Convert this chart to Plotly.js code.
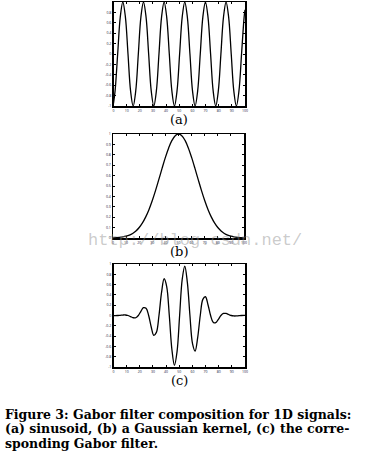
<!DOCTYPE html>
<html><head><meta charset="utf-8">
<script src="https://cdn.plot.ly/plotly-3.0.1.min.js"></script>
<style>html,body{margin:0;padding:0;background:#fff;}#chart{width:371px;height:458px;}</style>
</head><body><div id="chart"></div>
<script>
const sinX = [0,1.21,3.17,5.14,7.10,9.06,11.03,12.99,14.95,16.91,18.88,20.84,22.80,24.76,26.73,28.69,30.65,32.61,34.58,36.54,38.50,40.46,42.43,44.39,46.35,48.31,50.28,52.24,54.20,56.16,58.13,60.09,62.05,64.01,65.98,67.94,69.90,71.86,73.83,75.79,77.75,79.71,81.68,83.64,85.60,87.56,89.53,91.49,93.45,95.41,97.38,99.34,100];
const sinY = [-0.95,-0.71,0,0.71,1,0.71,0,-0.71,-1,-0.71,0,0.71,1,0.71,0,-0.71,-1,-0.71,0,0.71,1,0.71,0,-0.71,-1,-0.71,0,0.71,1,0.71,0,-0.71,-1,-0.71,0,0.71,1,0.71,0,-0.71,-1,-0.71,0,0.71,1,0.71,0,-0.71,-1,-0.71,0,0.71,0.85];
// (b) Gaussian kernel
const gaussX = [0,2.5,5,7.5,10,12.5,15,17.5,20,22.5,25,27.5,30,32.5,35,37.5,40,42.5,45,47.5,50,52.5,55,57.5,60,62.5,65,67.5,70,72.5,75,77.5,80,82.5,85,87.5,90,92.5,95,97.5,100];
const gaussY = [0.0017,0.0032,0.0057,0.0100,0.0169,0.0277,0.0439,0.0676,0.1007,0.1453,0.2030,0.2749,0.3604,0.4578,0.5633,0.6713,0.7748,0.8663,0.9382,0.9842,1,0.9842,0.9382,0.8663,0.7748,0.6713,0.5633,0.4578,0.3604,0.2749,0.2030,0.1453,0.1007,0.0676,0.0439,0.0277,0.0169,0.0100,0.0057,0.0032,0.0017];
// (c) Gabor filter, same sample positions as (a)
const gaborX = [0,1.21,3.17,5.14,7.10,9.06,11.03,12.99,14.95,16.91,18.88,20.84,22.80,24.76,26.73,28.69,30.65,32.61,34.58,36.54,38.50,40.46,42.43,44.39,46.35,48.31,50.28,52.24,54.20,56.16,58.13,60.09,62.05,64.01,65.98,67.94,69.90,71.86,73.83,75.79,77.75,79.71,81.68,83.64,85.60,87.56,89.53,91.49,93.45,95.41,97.38,99.34,100];
const gaborY = [-0.0016,-0.0016,0,0.0042,0.0091,0.0099,0,-0.0216,-0.0435,-0.0435,0,0.0812,0.1515,0.1398,0,-0.2229,-0.3847,-0.3282,0,0.4472,0.7136,0.5629,0,-0.6552,-0.9666,-0.7048,0,0.7010,0.9560,0.6445,0,-0.5476,-0.6905,-0.4303,0,0.3124,0.3641,0.2098,0,-0.1301,-0.1402,-0.0747,0,0.0396,0.0394,0.0194,0,-0.0088,-0.0081,-0.0037,0,0.0014,0.0014];

const xTicks = [0,10,20,30,40,50,60,70,80,90,100];
const xTickText = ["0","10","20","30","40","50","60","70","80","90","100"];
const ySignedTicks = [-1,-0.8,-0.6,-0.4,-0.2,0,0.2,0.4,0.6,0.8,1];
const ySignedText = ["-1","-0.8","-0.6","-0.4","-0.2","0","0.2","0.4","0.6","0.8","1"];
const yUnitTicks = [0,0.1,0.2,0.3,0.4,0.5,0.6,0.7,0.8,0.9,1];
const yUnitText = ["0","0.1","0.2","0.3","0.4","0.5","0.6","0.7","0.8","0.9","1"];
const panelLabels = ["(a)","(b)","(c)"];
const captionLines = ["Figure 3: Gabor filter composition for 1D signals:","(a) sinusoid, (b) a Gaussian kernel, (c) the corre-","sponding Gabor filter."];
const watermark = "http://blog.csdn.net/";

const W = 371, H = 458;
const px = v => v / W;
const py = v => 1 - v / H;

function xAxis(dom, anchor){
  return {domain: dom, anchor: anchor, range: [0,100], tickvals: xTicks, ticktext: xTickText,
    ticks: 'inside', ticklen: 2, tickwidth: 1, tickcolor: '#000', showline: true, linecolor: '#000', linewidth: 1.5,
    mirror: 'ticks', showgrid: false, zeroline: false, tickfont: {size: 3.5, color: '#1a1a40'}, fixedrange: true};
}
function yAxis(dom, anchor, rng, tv, tt){
  return {domain: dom, anchor: anchor, range: rng, tickvals: tv, ticktext: tt,
    ticks: 'inside', ticklen: 2, tickwidth: 1, tickcolor: '#000', showline: true, linecolor: '#000', linewidth: 1.5,
    mirror: 'ticks', showgrid: false, zeroline: false, tickfont: {size: 3.5, color: '#1a1a40'}, fixedrange: true};
}

const lineStyle = {color: '#000', width: 1.3, shape: 'spline', smoothing: 1};
const data = [
  {x: sinX, y: sinY, type: 'scatter', mode: 'lines', line: lineStyle, xaxis: 'x', yaxis: 'y', hoverinfo: 'skip'},
  {x: gaussX, y: gaussY, type: 'scatter', mode: 'lines', line: lineStyle, xaxis: 'x2', yaxis: 'y2', hoverinfo: 'skip'},
  {x: gaborX, y: gaborY, type: 'scatter', mode: 'lines', line: lineStyle, xaxis: 'x3', yaxis: 'y3', hoverinfo: 'skip'}
];

const labelY = [120, 251, 380];
const annotations = [];
annotations.push({text: watermark, xref: 'paper', yref: 'paper', x: px(195), y: py(240), xanchor: 'center', yanchor: 'middle',
  showarrow: false, font: {family: 'Liberation Mono', size: 17, color: 'rgba(140,140,140,0.45)'}});
panelLabels.forEach((t, i) => annotations.push({text: t, xref: 'paper', yref: 'paper', x: px(179), y: py(labelY[i]),
  xanchor: 'center', yanchor: 'middle', showarrow: false, font: {family: 'DejaVu Serif', size: 13, color: '#000'}}));
const capY = [414, 428.5, 443];
captionLines.forEach((t, i) => annotations.push({text: '<b>' + t + '</b>', xref: 'paper', yref: 'paper', x: px(3), y: py(capY[i]),
  xanchor: 'left', yanchor: 'middle', showarrow: false, font: {family: 'DejaVu Serif', size: 12.5, color: '#000'}}));

const layout = {
  width: W, height: H, margin: {l: 0, r: 0, t: 0, b: 0}, showlegend: false,
  paper_bgcolor: '#fff', plot_bgcolor: '#fff',
  xaxis: xAxis([px(113.5), px(245)], 'y'),
  yaxis: yAxis([py(106), py(2)], 'x', [-1, 1], ySignedTicks, ySignedText),
  xaxis2: xAxis([px(113), px(244)], 'y2'),
  yaxis2: yAxis([py(238), py(134)], 'x2', [0, 1], yUnitTicks, yUnitText),
  xaxis3: xAxis([px(113.5), px(245)], 'y3'),
  yaxis3: yAxis([py(367), py(264)], 'x3', [-1, 1], ySignedTicks, ySignedText),
  annotations: annotations
};
Plotly.newPlot('chart', data, layout, {staticPlot: true, displayModeBar: false});
</script></body></html>
